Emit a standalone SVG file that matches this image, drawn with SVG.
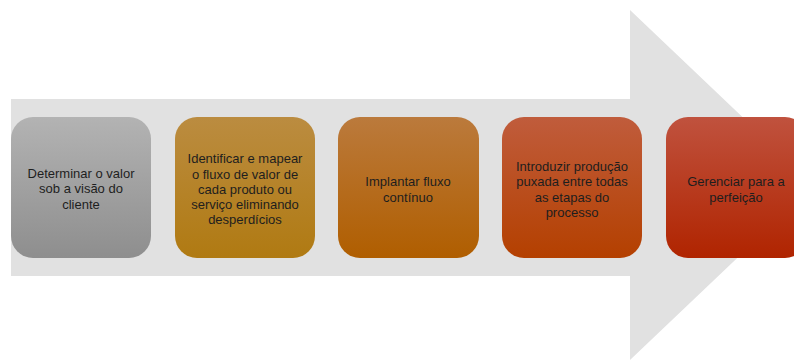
<svg xmlns="http://www.w3.org/2000/svg" width="794" height="361" viewBox="0 0 794 361">
<defs>
<linearGradient id="g1" x1="0" y1="0" x2="0" y2="1"><stop offset="0" stop-color="#b3b3b3"/><stop offset="1" stop-color="#8e8e8e"/></linearGradient>
<linearGradient id="g2" x1="0" y1="0" x2="0" y2="1"><stop offset="0" stop-color="#bb8c40"/><stop offset="1" stop-color="#b07a12"/></linearGradient>
<linearGradient id="g3" x1="0" y1="0" x2="0" y2="1"><stop offset="0" stop-color="#bb7a3c"/><stop offset="1" stop-color="#b05e00"/></linearGradient>
<linearGradient id="g4" x1="0" y1="0" x2="0" y2="1"><stop offset="0" stop-color="#c05c3c"/><stop offset="1" stop-color="#b44000"/></linearGradient>
<linearGradient id="g5" x1="0" y1="0" x2="0" y2="1"><stop offset="0" stop-color="#c0523e"/><stop offset="1" stop-color="#b02400"/></linearGradient>
</defs>
<style>
.box{stroke:none}
text{font-family:"Liberation Sans",Arial,sans-serif;font-size:13px;fill:#1e1e1e;text-anchor:middle}
</style>
<rect width="794" height="361" fill="#ffffff"/>
<g id="connectors">
<polygon points="11,99 630,99 630,10 814,185 630,360 630,276 11,276" fill="#e1e1e1"/>
</g>
<g id="node1">
<rect class="box" x="11" y="117" width="140" height="141" rx="22" fill="url(#g1)"/>
<text x="81" y="178">Determinar o valor</text>
<text x="81" y="193">sob a visão do</text>
<text x="81" y="209">cliente</text>
</g>
<g id="node2">
<rect class="box" x="175" y="117" width="140" height="141" rx="22" fill="url(#g2)"/>
<text x="245" y="163">Identificar e mapear</text>
<text x="245" y="179">o fluxo de valor de</text>
<text x="245" y="194">cada produto ou</text>
<text x="245" y="209">serviço eliminando</text>
<text x="245" y="224">desperdícios</text>
</g>
<g id="node3">
<rect class="box" x="338" y="117" width="141" height="141" rx="22" fill="url(#g3)"/>
<text x="408" y="186">Implantar fluxo</text>
<text x="408" y="202">contínuo</text>
</g>
<g id="node4">
<rect class="box" x="502" y="117" width="140" height="141" rx="22" fill="url(#g4)"/>
<text x="572" y="171">Introduzir produção</text>
<text x="572" y="186">puxada entre todas</text>
<text x="572" y="202">as etapas do</text>
<text x="572" y="217">processo</text>
</g>
<g id="node5">
<rect class="box" x="666" y="117" width="141" height="141" rx="22" fill="url(#g5)"/>
<text x="736" y="186">Gerenciar para a</text>
<text x="736" y="202">perfeição</text>
</g>
</svg>
